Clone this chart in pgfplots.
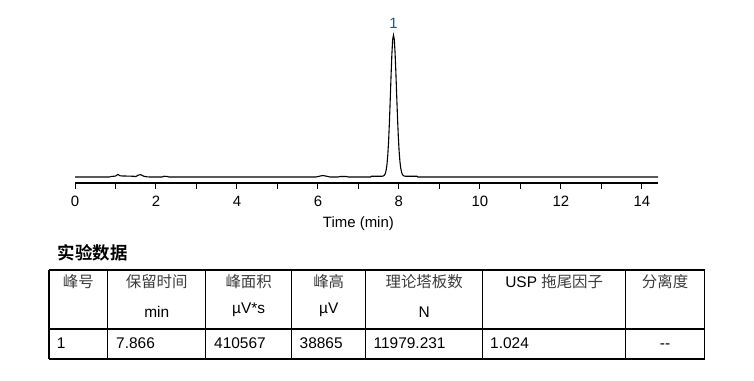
\documentclass[border=0pt]{standalone}
\usepackage{pgfplots}
\pgfplotsset{compat=1.18}
\usepackage{fontspec}
\setmainfont{Liberation Sans}
\newfontfamily\cjk{Noto Sans CJK SC}
\newfontfamily\cjkb{Noto Sans CJK SC}[BoldFont={* Bold}]
\definecolor{pklab}{RGB}{35,85,135}
\definecolor{hdr}{RGB}{60,60,60}
\begin{document}
\begin{tikzpicture}[x=1bp,y=1bp]
\path (0,0) rectangle (754,380);
\begin{axis}[
  at={(75bp,197bp)}, anchor=south west,
  scale only axis, width=583bp, height=163bp,
  xmin=0, xmax=14.4, ymin=-1642, ymax=43000,
  axis x line=bottom, axis y line=none,
  axis line style={line width=1.1bp,-},
  xtick={0,2,...,14}, minor xtick={1,3,...,13},
  tick align=outside, major tick length=6bp, minor tick length=6bp,
  every tick/.style={black,line width=1bp},
  xticklabel style={font=\fontsize{15}{18}\selectfont, anchor=base, yshift=-17.7bp},
  /pgf/number format/assume math mode=true,
  xlabel={Time (min)},
  xlabel style={font=\fontsize{15}{18}\selectfont, at={(axis description cs:0.4861,0)}, anchor=base, yshift=-44bp},
  clip=false,
]
\addplot[black, line width=1.1bp] coordinates {
(0,0) (0.85,0) (0.9,150) (1.0,250) (1.06,700) (1.12,300) (1.3,250) (1.45,200) (1.5,100)
(1.56,500) (1.62,650) (1.7,200) (1.78,50) (1.85,0) (2.15,0) (2.2,200) (2.28,150) (2.32,0)
(5.95,0) (6.05,250) (6.12,400) (6.2,250) (6.3,0) (6.5,0) (6.55,150) (6.7,150) (6.75,0)
(7.3,0) (7.32,200) (7.586,200)
(7.606,257) (7.626,350) (7.646,565) (7.666,1021) (7.686,1907) (7.706,3492) (7.726,6068)
(7.746,9890) (7.766,15015) (7.786,21167) (7.806,27675) (7.826,33505) (7.846,37593) (7.866,38865)
(7.886,37705) (7.906,33907) (7.926,28422) (7.946,22197) (7.966,16200) (7.986,11004) (8.006,7001)
(8.026,4193) (8.046,2381) (8.066,1311) (8.086,726) (8.106,432) (8.126,296) (8.146,235) (8.17,200)
(8.45,200) (8.47,0) (14.4,0)
};
\node[font=\fontsize{15}{18}\selectfont, text=pklab, anchor=south, inner sep=0pt, yshift=6.5bp] at (axis cs:7.866,38865) {1};
\end{axis}
% title
\node[font=\cjkb\bfseries\fontsize{17.5}{20}\selectfont, anchor=base west, inner sep=0pt] at (57.5,120.5) {实验数据};
% table lines
\begin{scope}[line width=1.2bp]
\draw (49,110) -- (704.5,110);
\draw (49,51) -- (704.5,51);
\draw (49,21) -- (704.5,21);
\foreach \x in {49,107.7,205.7,291.7,365.7,482.7,625.7,704.5} \draw (\x,110) -- (\x,21);
\end{scope}
% header
\begin{scope}[every node/.style={inner sep=0pt, anchor=base, font=\fontsize{15.5}{18}\selectfont}]
\node[text=hdr] at (78.3,92.7) {\cjk 峰号};
\node[text=hdr] at (156.7,92.7) {\cjk 保留时间};
\node[text=hdr] at (248.7,92.7) {\cjk 峰面积};
\node[text=hdr] at (328.7,92.7) {\cjk 峰高};
\node[text=hdr] at (424.2,92.7) {\cjk 理论塔板数};
\node at (554.2,92.7) {USP {\cjk\color{hdr}拖尾因子}};
\node[text=hdr] at (665.1,92.7) {\cjk 分离度};
\node at (156.7,62.7) {min};
\node at (248.7,66.7) {µV*s};
\node at (328.7,66.7) {µV};
\node at (424.2,62.7) {N};
\end{scope}
\begin{scope}[every node/.style={inner sep=0pt, anchor=base west, font=\fontsize{15.5}{18}\selectfont}]
\node at (56.7,31.7) {1};
\node at (116,31.7) {7.866};
\node at (214,31.7) {410567};
\node at (299.5,31.7) {38865};
\node at (373.5,31.7) {11979.231};
\node at (490,31.7) {1.024};
\node[anchor=base] at (665.1,31.7) {-{}-};
\end{scope}
\end{tikzpicture}
\end{document}
